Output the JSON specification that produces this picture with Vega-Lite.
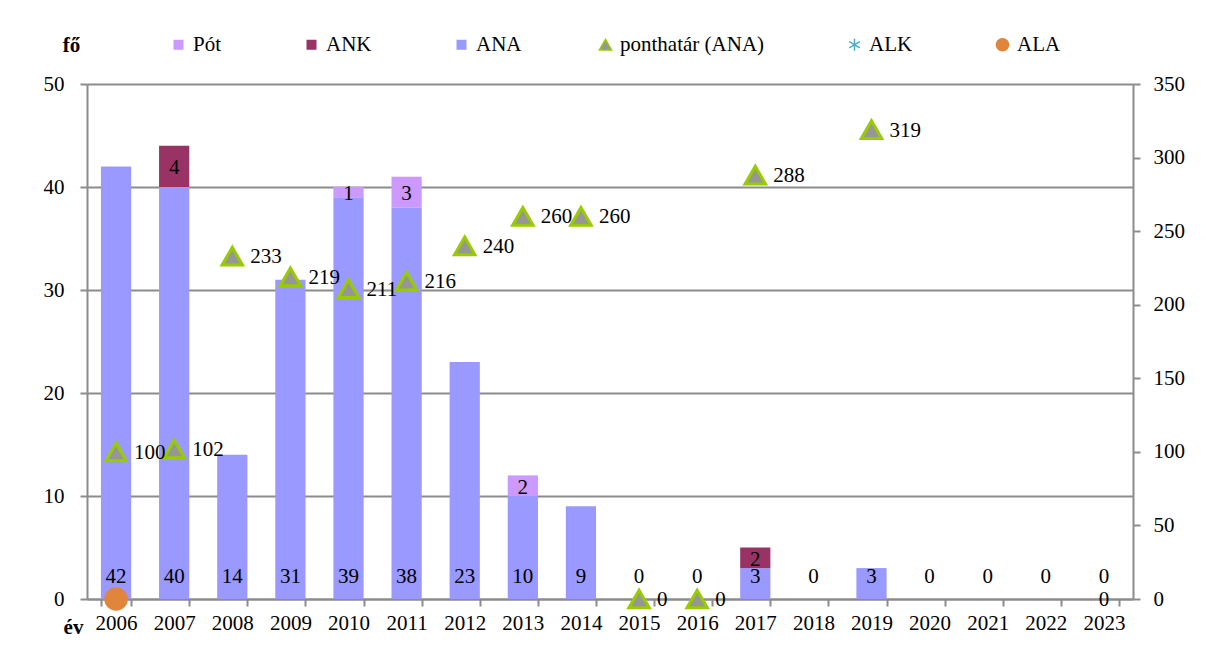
{
  "$schema": "https://vega.github.io/schema/vega-lite/v6.json",
  "width": 1046,
  "height": 515,
  "autosize": "none",
  "padding": {"left": 87, "top": 84, "right": 73, "bottom": 47},
  "background": "#ffffff",
  "config": {
    "font": "Liberation Serif",
    "view": {"stroke": null},
    "axis": {"labelFont": "Liberation Serif", "titleFont": "Liberation Serif", "labelColor": "#000000", "titleColor": "#000000", "labelFontSize": 21, "titleFontSize": 21},
    "legend": {"labelFont": "Liberation Serif", "labelFontSize": 21, "labelColor": "#000000"},
    "text": {"font": "Liberation Serif", "fontSize": 21, "color": "#000000"}
  },
  "datasets": {
    "bars": [
      {"year": "2006", "series": "ANA", "value": 42},
      {"year": "2007", "series": "ANA", "value": 40},
      {"year": "2007", "series": "ANK", "value": 4},
      {"year": "2008", "series": "ANA", "value": 14},
      {"year": "2009", "series": "ANA", "value": 31},
      {"year": "2010", "series": "ANA", "value": 39},
      {"year": "2010", "series": "Pót", "value": 1},
      {"year": "2011", "series": "ANA", "value": 38},
      {"year": "2011", "series": "Pót", "value": 3},
      {"year": "2012", "series": "ANA", "value": 23},
      {"year": "2013", "series": "ANA", "value": 10},
      {"year": "2013", "series": "Pót", "value": 2},
      {"year": "2014", "series": "ANA", "value": 9},
      {"year": "2015", "series": "ANA", "value": 0},
      {"year": "2016", "series": "ANA", "value": 0},
      {"year": "2017", "series": "ANA", "value": 3},
      {"year": "2017", "series": "ANK", "value": 2},
      {"year": "2018", "series": "ANA", "value": 0},
      {"year": "2019", "series": "ANA", "value": 3},
      {"year": "2020", "series": "ANA", "value": 0},
      {"year": "2021", "series": "ANA", "value": 0},
      {"year": "2022", "series": "ANA", "value": 0},
      {"year": "2023", "series": "ANA", "value": 0}
    ],
    "points": [
      {"year": "2006", "series": "ponthatár (ANA)", "value": 100},
      {"year": "2007", "series": "ponthatár (ANA)", "value": 102},
      {"year": "2008", "series": "ponthatár (ANA)", "value": 233},
      {"year": "2009", "series": "ponthatár (ANA)", "value": 219},
      {"year": "2010", "series": "ponthatár (ANA)", "value": 211},
      {"year": "2011", "series": "ponthatár (ANA)", "value": 216},
      {"year": "2012", "series": "ponthatár (ANA)", "value": 240},
      {"year": "2013", "series": "ponthatár (ANA)", "value": 260},
      {"year": "2014", "series": "ponthatár (ANA)", "value": 260},
      {"year": "2015", "series": "ponthatár (ANA)", "value": 0},
      {"year": "2016", "series": "ponthatár (ANA)", "value": 0},
      {"year": "2017", "series": "ponthatár (ANA)", "value": 288},
      {"year": "2019", "series": "ponthatár (ANA)", "value": 319},
      {"year": "2006", "series": "ALK", "value": 0},
      {"year": "2006", "series": "ALA", "value": 0}
    ],
    "extra": [
      {"year": "2023", "value": 0}
    ]
  },
  "encoding": {
    "x": {
      "field": "year",
      "type": "ordinal",
      "scale": {
        "domain": ["2006","2007","2008","2009","2010","2011","2012","2013","2014","2015","2016","2017","2018","2019","2020","2021","2022","2023"],
        "paddingInner": 0.48,
        "paddingOuter": 0.24
      },
      "axis": {
        "title": "év",
        "titleX": -14,
        "titleY": 28,
        "titleAlign": "center",
        "titleBaseline": "middle",
        "titleFontWeight": "bold",
        "labelAngle": 0,
        "tickBand": "extent",
        "tickSize": 7,
        "tickWidth": 2,
        "tickColor": "#8c8c8c",
        "domainColor": "#8c8c8c",
        "domainWidth": 2,
        "labelPadding": 6
      }
    }
  },
  "layer": [
    {
      "layer": [
        {
          "data": {"name": "bars"},
          "mark": {"type": "bar"},
          "encoding": {
            "y": {
              "field": "value",
              "type": "quantitative",
              "aggregate": "sum",
              "stack": "zero",
              "scale": {"domain": [0, 50]},
              "axis": {
                "title": "fő",
                "titleAngle": 0,
                "titleX": -16,
                "titleY": -39,
                "titleAlign": "center",
                "titleBaseline": "middle",
                "titleFontWeight": "bold",
                "values": [0, 10, 20, 30, 40, 50],
                "grid": true,
                "gridColor": "#8c8c8c",
                "gridWidth": 2,
                "domainColor": "#8c8c8c",
                "domainWidth": 2,
                "tickColor": "#8c8c8c",
                "tickWidth": 2,
                "tickSize": 7,
                "labelPadding": 16
              }
            },
            "color": {
              "field": "series",
              "type": "nominal",
              "scale": {"domain": ["Pót", "ANK", "ANA"], "range": ["#CC99FF", "#993366", "#9999FF"]},
              "legend": {
                "title": null,
                "orient": "none",
                "legendX": 81,
                "legendY": -50,
                "direction": "horizontal",
                "columns": 3,
                "columnPadding": 79,
                "padding": 0,
                "symbolType": "square",
                "symbolSize": 100,
                "symbolStrokeWidth": 0,
                "labelOffset": 4
              }
            },
            "order": {"field": "series", "sort": "ascending"}
          }
        },
        {
          "data": {"name": "bars"},
          "transform": [{"filter": "datum.series === 'ANA'"}],
          "mark": {"type": "text", "baseline": "middle", "align": "center", "dy": -22},
          "encoding": {
            "y": {"datum": 0, "type": "quantitative"},
            "text": {"field": "value", "type": "quantitative"}
          }
        },
        {
          "data": {"name": "bars"},
          "transform": [
            {"stack": "value", "groupby": ["year"], "sort": [{"field": "series", "order": "ascending"}], "as": ["y0", "y1"]},
            {"filter": "datum.series !== 'ANA'"},
            {"fold": ["y0", "y1"], "as": ["edge", "pos"]}
          ],
          "mark": {"type": "text", "baseline": "middle", "align": "center", "dy": 2},
          "encoding": {
            "y": {"field": "pos", "type": "quantitative", "aggregate": "mean"},
            "text": {"field": "value", "type": "quantitative"},
            "detail": {"field": "series", "type": "nominal"}
          }
        },
        {
          "data": {"name": "extra"},
          "mark": {"type": "text", "baseline": "middle", "align": "center", "dy": 1},
          "encoding": {
            "y": {"field": "value", "type": "quantitative"},
            "text": {"field": "value", "type": "quantitative"}
          }
        }
      ]
    },
    {
      "layer": [
        {
          "data": {"name": "points"},
          "mark": {"type": "point", "filled": true, "size": 420, "strokeWidth": 3, "opacity": 1},
          "encoding": {
            "y": {
              "field": "value",
              "type": "quantitative",
              "scale": {"domain": [0, 350]},
              "axis": {
                "orient": "right",
                "title": null,
                "values": [0, 50, 100, 150, 200, 250, 300, 350],
                "grid": false,
                "domainColor": "#8c8c8c",
                "domainWidth": 2,
                "tickColor": "#8c8c8c",
                "tickWidth": 2,
                "tickSize": 7,
                "labelPadding": 13
              }
            },
            "shape": {
              "field": "series",
              "type": "nominal",
              "scale": {"domain": ["ponthatár (ANA)", "ALK", "ALA"], "range": ["triangle-up", "M0,-1L0,1M-0.87,-0.5L0.87,0.5M-0.87,0.5L0.87,-0.5", "circle"]},
              "legend": {"title": null, "orient": "none", "legendX": 508, "legendY": -50, "direction": "horizontal", "columns": 3, "columnPadding": 79, "padding": 0, "symbolSize": 150, "labelOffset": 4}
            },
            "fill": {
              "field": "series",
              "type": "nominal",
              "scale": {"domain": ["ponthatár (ANA)", "ALK", "ALA"], "range": ["#969696", "#4BACC6", "#E0853A"]},
              "legend": {"title": null, "orient": "none", "legendX": 508, "legendY": -50, "direction": "horizontal", "columns": 3, "columnPadding": 79, "padding": 0, "symbolSize": 150, "labelOffset": 4}
            },
            "stroke": {
              "field": "series",
              "type": "nominal",
              "scale": {"domain": ["ponthatár (ANA)", "ALK", "ALA"], "range": ["#99CC00", "#4BACC6", "#E0853A"]},
              "legend": {"title": null, "orient": "none", "legendX": 508, "legendY": -50, "direction": "horizontal", "columns": 3, "columnPadding": 79, "padding": 0, "symbolSize": 150, "labelOffset": 4}
            }
          }
        },
        {
          "data": {"name": "points"},
          "transform": [{"filter": "datum.series === 'ponthatár (ANA)'"}],
          "mark": {"type": "text", "baseline": "middle", "align": "left", "dx": 18, "dy": 1},
          "encoding": {
            "y": {"field": "value", "type": "quantitative"},
            "text": {"field": "value", "type": "quantitative"}
          }
        }
      ]
    }
  ],
  "resolve": {"scale": {"y": "independent", "color": "independent", "fill": "independent", "stroke": "independent", "shape": "independent"}}
}
